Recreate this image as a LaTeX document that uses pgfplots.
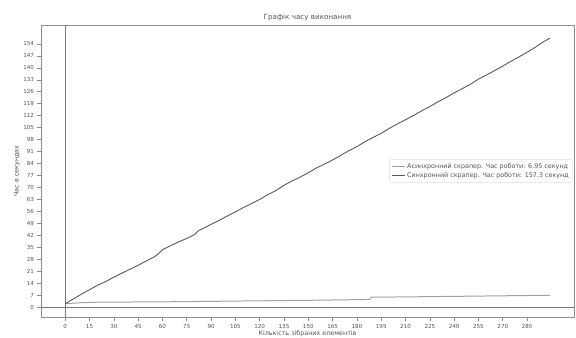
\documentclass[border=0pt]{standalone}
\usepackage{fontspec}
\setmainfont{DejaVu Sans}
\usepackage{pgfplots}
\pgfplotsset{compat=1.18}
\definecolor{asyncc}{HTML}{A2A2A2}
\definecolor{syncc}{HTML}{5A5A5A}
\definecolor{spine}{HTML}{8C8C8C}
\definecolor{tickc}{HTML}{555555}
\definecolor{zeroc}{HTML}{7A7A7A}
\definecolor{legendc}{HTML}{DDDDDD}
\begin{document}
\begin{tikzpicture}
\path[use as bounding box] (0,0) rectangle (576bp,338bp);
\begin{axis}[
  at={(41bp,21bp)}, anchor=south west,
  scale only axis, width=533bp, height=292bp,
  xmin=-14.95, xmax=313.95, ymin=-5.77, ymax=165.07,
  xtick={0,15,...,285}, ytick={0,7,...,154},
  tick align=outside, xtick pos=bottom, ytick pos=left,
  major tick length=3.5bp,
  axis line style={spine, line width=0.8bp},
  tick style={spine, line width=0.6bp},
  ticklabel style={font=\fontsize{5.6}{6}\selectfont, text=tickc},
  /pgf/number format/assume math mode=true,
  title={Графік часу виконання},
  title style={font=\fontsize{7.2}{8}\selectfont, text=tickc, at={(axis description cs:0.5,1)}, anchor=south, yshift=-5.5bp},
  xlabel={Кількість зібраних елементів},
  ylabel={Час в секундах},
  xlabel style={font=\fontsize{6.4}{7}\selectfont, text=tickc, at={(axis description cs:0.5,0)}, yshift=-17bp, anchor=center},
  ylabel style={font=\fontsize{6.4}{7}\selectfont, text=tickc, at={(axis description cs:-0.045,0.5)}, anchor=center},
  legend style={at={(axis description cs:0.997,0.5)}, anchor=east, font=\fontsize{6.4}{7}\selectfont, text=tickc, draw=legendc, rounded corners=1.5bp, inner sep=1.5bp, row sep=-1bp},
  legend cell align=left,
  legend image code/.code={\draw[#1] (0bp,0bp) -- (13bp,0bp);},
]
\addplot[zeroc, line width=1.1bp, forget plot] coordinates {(-14.95,0) (313.95,0)};
\addplot[zeroc, line width=1.1bp, forget plot] coordinates {(0,-5.77) (0,165.07)};
\addplot[asyncc, line width=1bp] coordinates {
(0,2.0) (3,2.2) (10,2.6) (20,2.9) (40,3.0) (60,3.1) (80,3.3) (100,3.5) (120,3.7) (140,3.9) (160,4.1) (188,4.5) (189,5.8) (200,5.9) (240,6.3) (280,6.75) (299,6.95)
};
\addlegendentry{Асинхронний скрапер. Час роботи: 6.95 секунд}
\addplot[syncc, line width=0.9bp] coordinates {
(0,2.0) (5,4.8) (10,7.6) (15,10.2) (20,12.8) (25,15.0) (30,17.5) (35,19.9) (40,22.2) (45,24.5) (50,27.0) (55,29.4) (58,31.6) (60,33.6) (65,36.0) (70,38.2) (75,40.2) (80,42.6) (82,44.6) (85,46.0) (90,48.4) (95,50.8) (100,53.3) (105,55.7) (110,58.3) (115,60.6) (120,63.0) (125,65.8) (130,68.2) (135,71.3) (140,73.8) (145,76.1) (150,78.6) (155,81.4) (160,83.7) (165,86.1) (170,88.8) (175,91.5) (180,93.9) (185,96.8) (190,99.3) (195,101.7) (200,104.6) (205,107.2) (210,109.6) (215,112.2) (220,114.9) (225,117.4) (230,120.1) (235,122.6) (240,125.4) (245,127.8) (250,130.4) (255,133.4) (260,135.9) (265,138.4) (270,141.0) (275,143.8) (280,146.4) (285,149.1) (290,152.0) (295,155.2) (299,157.3)
};
\addlegendentry{Синхронний скрапер. Час роботи: 157.3 секунд}
\end{axis}
\end{tikzpicture}
\end{document}
